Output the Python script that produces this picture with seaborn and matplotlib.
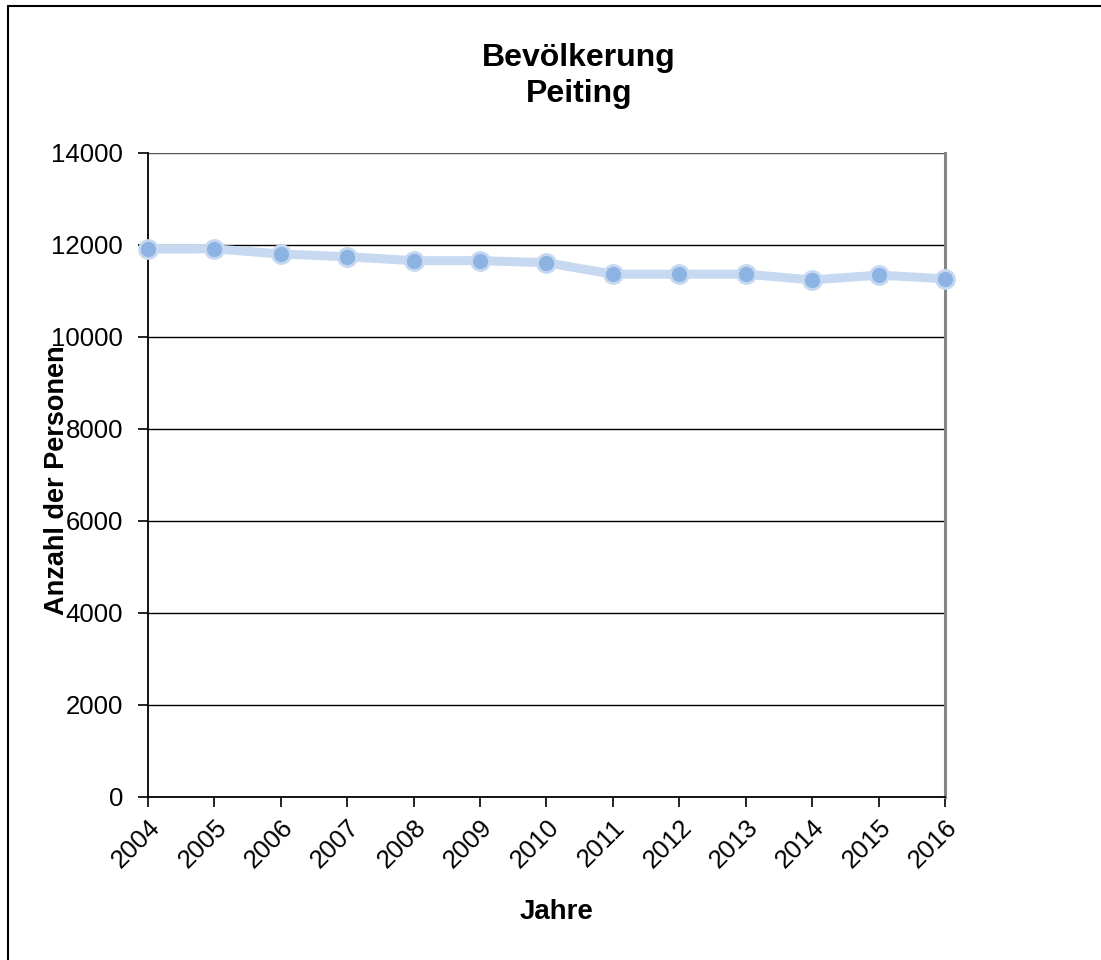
import matplotlib
matplotlib.use("Agg")
import matplotlib.pyplot as plt
from matplotlib.lines import Line2D
import seaborn as sns
import pandas as pd

years = [2004, 2005, 2006, 2007, 2008, 2009, 2010, 2011, 2012, 2013, 2014, 2015, 2016]
population = [11910, 11915, 11805, 11745, 11660, 11660, 11615, 11365, 11365, 11365, 11240, 11345, 11265]
y_ticks = [0, 2000, 4000, 6000, 8000, 10000, 12000, 14000]

df = pd.DataFrame({"Jahr": years, "Personen": population})

sns.set_theme(style="white")
plt.rcParams['font.family'] = ['Liberation Sans', 'DejaVu Sans']

fig = plt.figure(figsize=(11.01, 9.6), dpi=100)
ax = fig.add_axes([148/1101, 1-797/960, (945-148)/1101, (797-153)/960])

sns.lineplot(data=df, x="Jahr", y="Personen", ax=ax, color="#C6D9F1", linewidth=6.5,
             marker="o", markersize=13, markerfacecolor="#8DB3E2",
             markeredgecolor="#C6D9F1", markeredgewidth=2, clip_on=False, zorder=5)

ax.set_xlim(2004, 2016)
ax.set_ylim(0, 14000)
ax.set_yticks(y_ticks)
ax.set_yticklabels([str(v) for v in y_ticks])
ax.set_xticks(years)
ax.set_xticklabels([str(y) for y in years], rotation=45, ha='right', rotation_mode='anchor')

for v in y_ticks[1:]:
    ax.axhline(v, color='#000000' if v < 14000 else '#555555', linewidth=1.0, zorder=1)

for s in ['left', 'bottom']:
    ax.spines[s].set_color('#000000')
    ax.spines[s].set_linewidth(1.3)
ax.spines['right'].set_color('#868686')
ax.spines['right'].set_linewidth(2.2)
ax.spines['top'].set_visible(False)

ax.tick_params(axis='both', which='both', direction='out', length=7, width=1.2,
               color='#000000', labelsize=18.5, labelcolor='#000000')
ax.tick_params(axis='y', pad=11, left=True)
ax.tick_params(axis='x', pad=6, bottom=True)

ax.set_xlabel("Jahre", fontsize=20, fontweight='bold', color='#000000')
ax.set_ylabel("Anzahl der Personen", fontsize=19.5, fontweight='bold', color='#000000')
ax.xaxis.set_label_coords((557-148)/797, (797-912)/644)
ax.yaxis.set_label_coords((57-148)/797, (797-480)/644)
ax.yaxis.label.set_va('center')
ax.xaxis.label.set_va('center')

fig.text(579/1101, 1-76/960, "Bevölkerung\nPeiting", ha='center', va='center',
         fontsize=23, fontweight='bold', linespacing=1.28, color='#000000')

fig.add_artist(Line2D([8/1101, 8/1101], [0, 1-6/960], color='#000000', linewidth=1.5,
                      transform=fig.transFigure))
fig.add_artist(Line2D([8/1101, 1], [1-6/960, 1-6/960], color='#000000', linewidth=1.5,
                      transform=fig.transFigure))

fig.savefig("out.png", dpi=100)
